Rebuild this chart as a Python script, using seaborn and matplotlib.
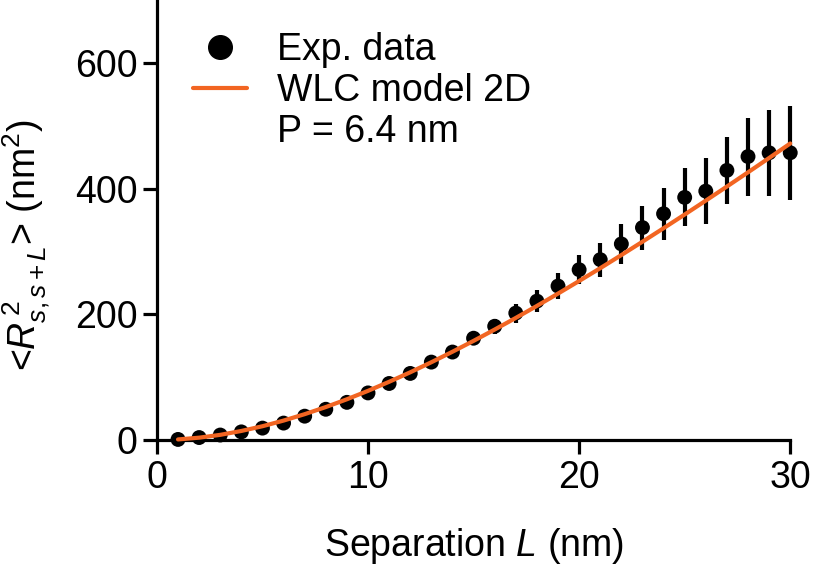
import matplotlib
matplotlib.use('Agg')
import matplotlib.pyplot as plt
from matplotlib.lines import Line2D
import seaborn as sns
import pandas as pd

# separation L (nm)
sep = [1, 2, 3, 4, 5, 6, 7, 8, 9, 10, 11, 12, 13, 14, 15,
       16, 17, 18, 19, 20, 21, 22, 23, 24, 25, 26, 27, 28, 29, 30]
# measured <R^2> (nm^2) and error
r2_exp = [1, 4, 8, 13, 19, 27, 38, 49, 60, 75, 90, 106, 124, 140, 162,
          181, 202, 221, 245, 271, 287, 312, 338, 360, 386, 396, 429, 451, 457, 457]
r2_err = [1, 1, 1, 2, 2, 3, 3, 4, 4, 5, 5, 6, 7, 8, 10,
          12, 15, 18, 20, 23, 27, 32, 35, 41, 46, 52, 53, 62, 68, 75]
# WLC 2D model curve, P = 6.4 nm
r2_wlc = [1.0, 3.8, 8.3, 14.5, 22.0, 31.0, 41.2, 52.5, 64.9, 78.3, 92.7, 107.8, 123.8, 140.5, 157.8,
          175.8, 194.3, 213.4, 233.0, 253.0, 273.4, 294.3, 315.5, 337.0, 358.8, 380.9, 403.3, 425.9, 448.7, 471.8]

df = pd.DataFrame({'L': sep, 'exp': r2_exp, 'err': r2_err, 'wlc': r2_wlc})

sns.set_style('ticks')
plt.rcParams['font.family'] = ['Liberation Sans', 'DejaVu Sans']
plt.rcParams['mathtext.fontset'] = 'custom'
plt.rcParams['mathtext.rm'] = 'Liberation Sans'
plt.rcParams['mathtext.it'] = 'Liberation Sans:italic'
for k in ['text.color', 'axes.labelcolor', 'xtick.color', 'ytick.color', 'axes.edgecolor']:
    plt.rcParams[k] = 'black'

orange = '#F26522'
fs = 27

fig = plt.figure(figsize=(8.13, 5.73), dpi=100)
ax = fig.add_axes([0.193, 0.232, 0.779, 0.768])

ax.errorbar(df.L, df.exp, yerr=df.err, fmt='none', ecolor='black', elinewidth=3, capsize=0,
            zorder=2, clip_on=False)
sns.scatterplot(data=df, x='L', y='exp', color='black', s=115, edgecolor='none', ax=ax,
                zorder=3, clip_on=False)
sns.lineplot(data=df, x='L', y='wlc', color=orange, lw=3, ax=ax, zorder=4, clip_on=False)

ax.set_xlim(0, 30)
ax.set_ylim(0, 700)
ax.set_xticks([0, 10, 20, 30])
ax.set_yticks([0, 200, 400, 600])
sns.despine(ax=ax)
for s in ['left', 'bottom']:
    ax.spines[s].set_linewidth(2.3)
ax.tick_params(width=2.3, length=10, labelsize=fs, pad=4)

ax.set_xlabel('Separation $\\mathit{L}$ (nm)', fontsize=fs, labelpad=22)
ax.set_ylabel('<$\\mathit{R}^{\\,2}_{\\mathit{s,s+L}}$> (nm$^2$)', fontsize=fs)
ax.yaxis.set_label_coords(-0.165, 0.443)

handles = [Line2D([], [], marker='o', color='black', ls='none', markersize=17),
           Line2D([], [], color=orange, lw=3),
           Line2D([], [], color='none')]
ax.legend(handles, ['Exp. data', 'WLC model 2D', 'P = 6.4 nm'], loc='upper left',
          bbox_to_anchor=(0.057, 0.927), frameon=False, fontsize=fs, handlelength=1.45,
          handletextpad=0.8, labelspacing=0.13, borderpad=0, borderaxespad=0)

fig.savefig('out.png', dpi=100)
